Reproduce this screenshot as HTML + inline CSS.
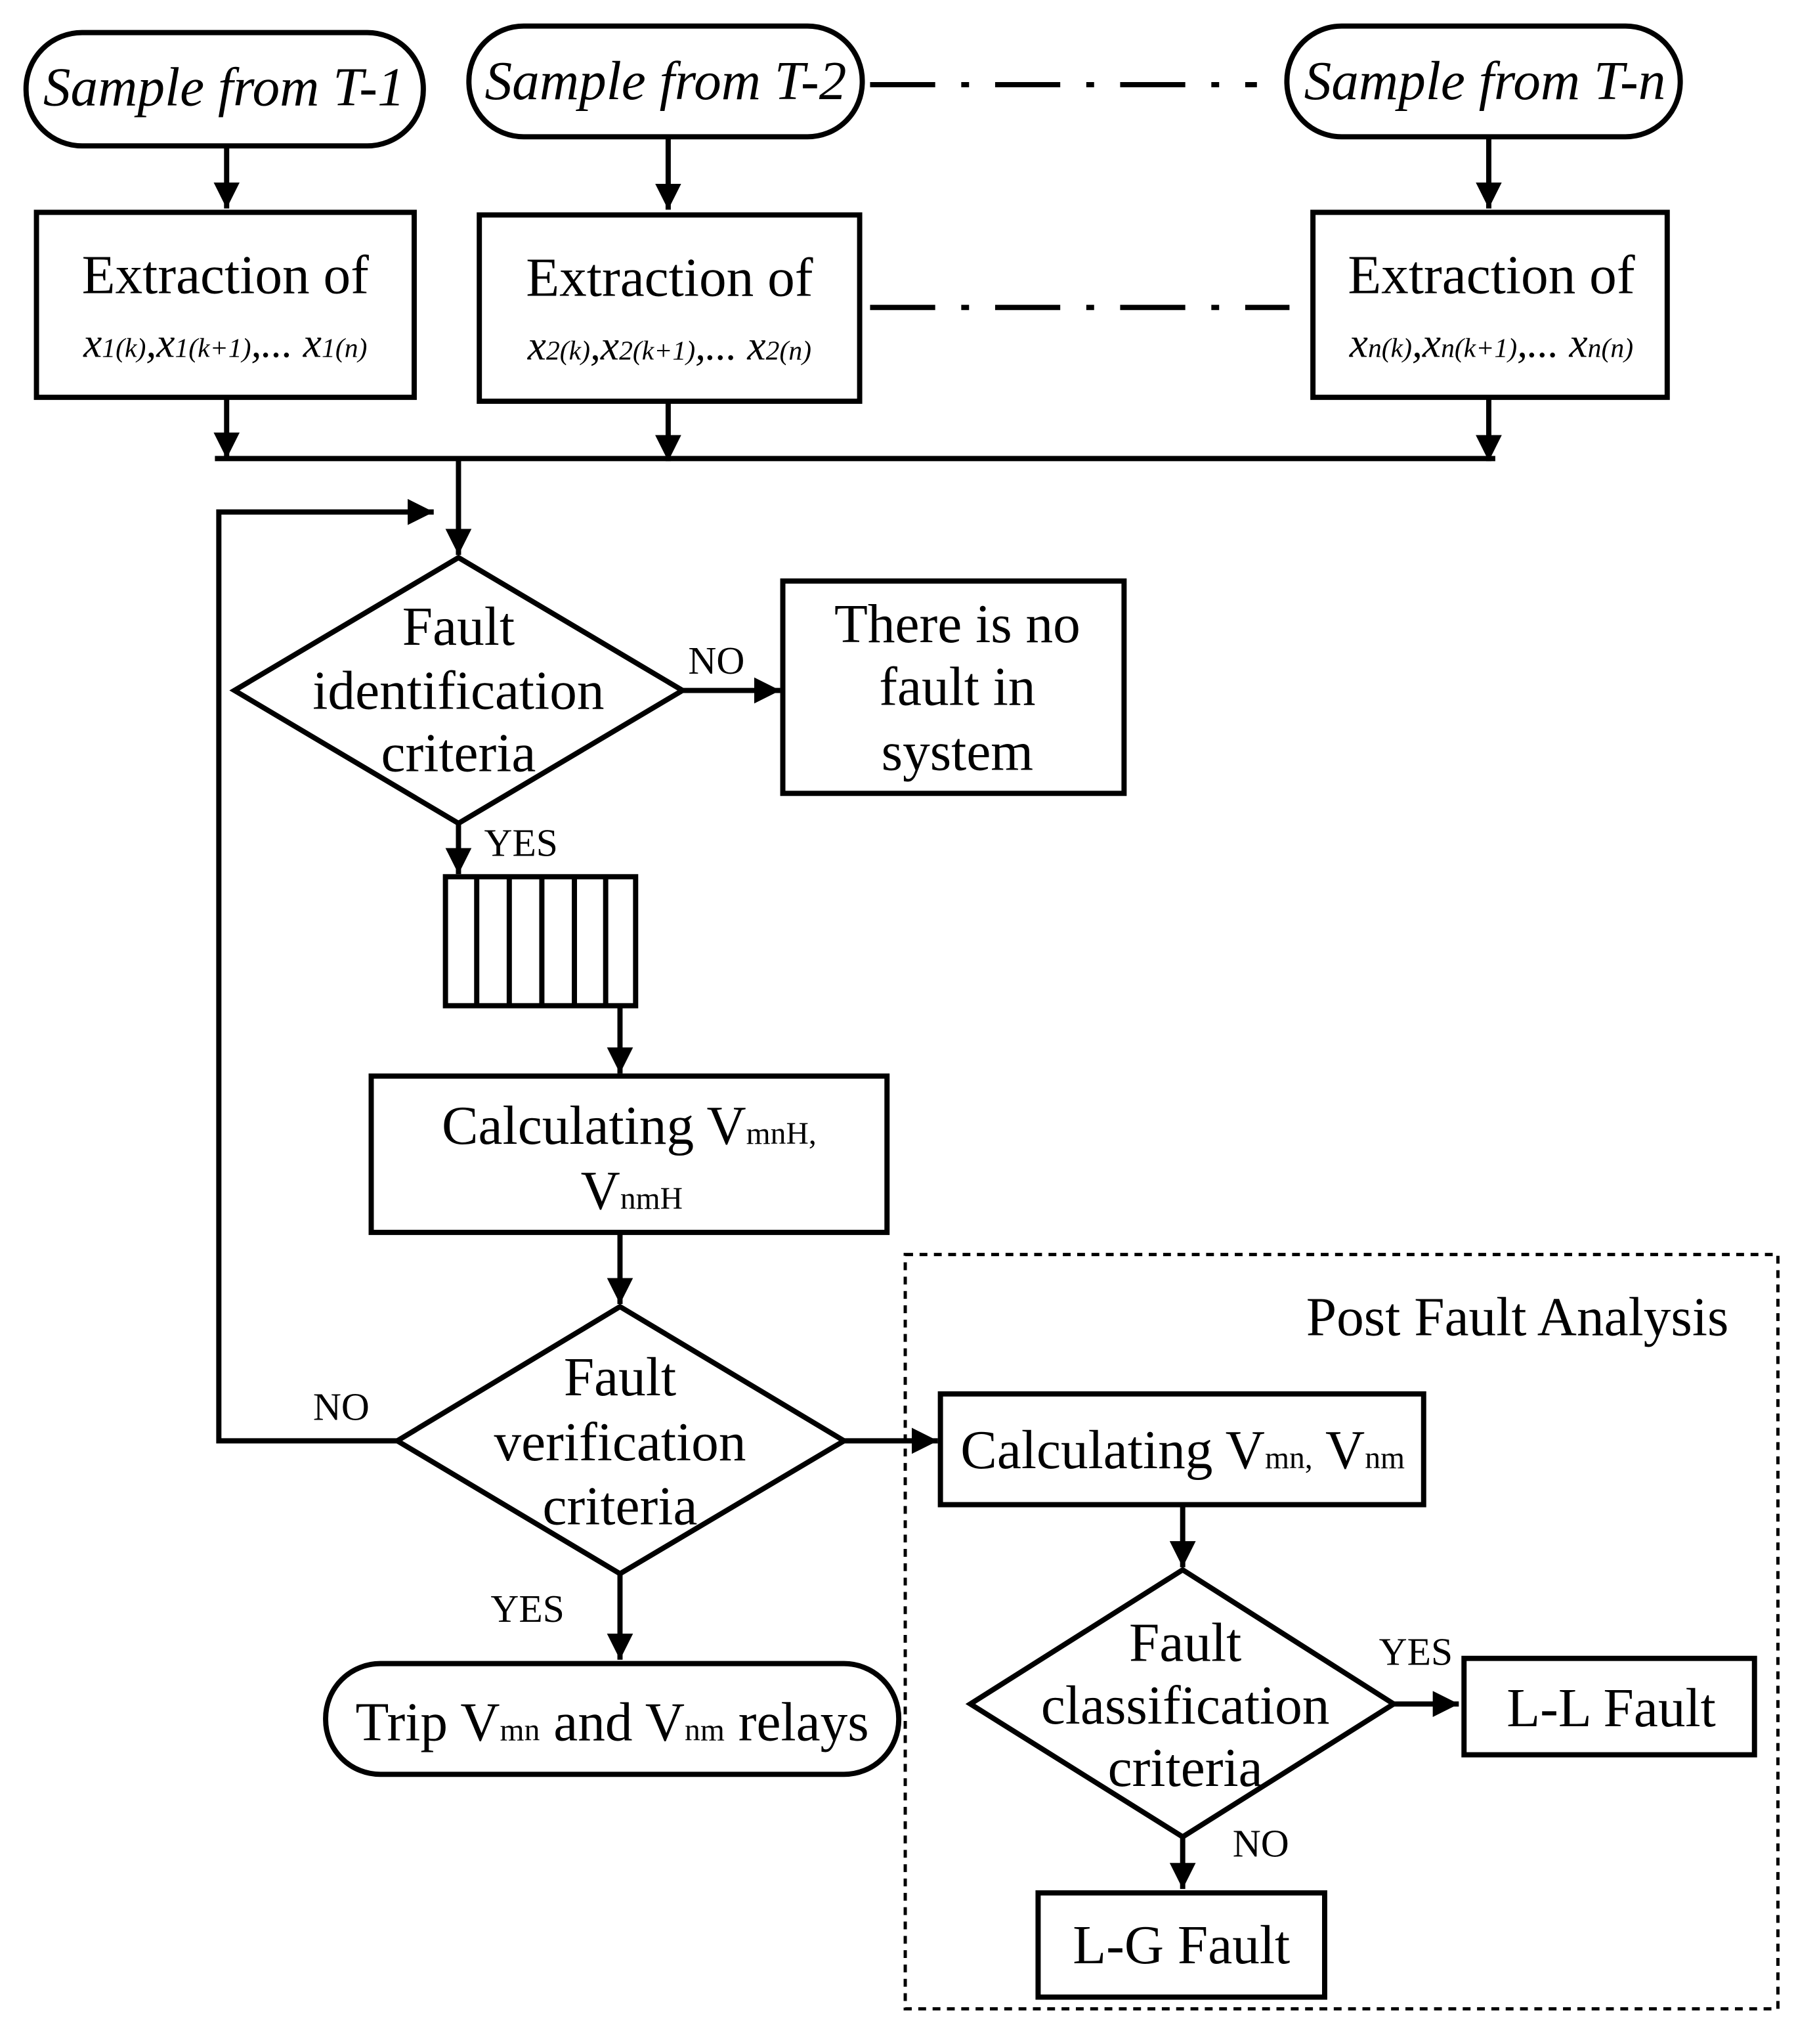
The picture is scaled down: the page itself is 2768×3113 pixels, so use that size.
<!DOCTYPE html>
<html><head><meta charset="utf-8"><style>
html,body{margin:0;padding:0;background:#fff;}
svg{display:block;}
text{font-family:"Liberation Serif",serif;fill:#000;}
</style></head><body>
<svg width="2768" height="3113" viewBox="0 0 1395 1569" preserveAspectRatio="none" xmlns="http://www.w3.org/2000/svg">
<defs>
<marker id="a" viewBox="0 0 10 10" refX="10" refY="5" markerWidth="5" markerHeight="5" orient="auto" markerUnits="strokeWidth">
<path d="M0,0 L10,5 L0,10 z" fill="#000"/></marker>
</defs>
<g fill="none" stroke="#000" stroke-width="4">
<rect x="20" y="25" width="305" height="87" rx="43"/>
<rect x="360" y="20" width="302" height="85" rx="42"/>
<rect x="988" y="20" width="302" height="85" rx="42"/>
<path d="M668,65 H965" stroke-dasharray="50,20,6,20"/>
<path d="M668,236 H990" stroke-dasharray="50,20,6,20"/>
<path d="M174,112 V160" marker-end="url(#a)"/>
<path d="M513,105 V161" marker-end="url(#a)"/>
<path d="M1143,105 V160" marker-end="url(#a)"/>
<rect x="28" y="163" width="290" height="142"/>
<rect x="368" y="165" width="292" height="143"/>
<rect x="1008" y="163" width="272" height="142"/>
<path d="M174,305 V352" marker-end="url(#a)"/>
<path d="M513,308 V354" marker-end="url(#a)"/>
<path d="M1143,305 V354" marker-end="url(#a)"/>
<path d="M165,352 H1148"/>
<path d="M352,352 V426" marker-end="url(#a)"/>
<path d="M305,1106 H168 V393 H333" marker-end="url(#a)"/>
<polygon points="352,428 524,530 352,632 180,530"/>
<path d="M524,530 H599" marker-end="url(#a)"/>
<rect x="601" y="446" width="262" height="163"/>
<path d="M352,632 V671" marker-end="url(#a)"/>
<rect x="342" y="673" width="146" height="99"/>
<path d="M366,673V772M391,673V772M416,673V772M441,673V772M465,673V772"/>
<path d="M476,772 V824" marker-end="url(#a)"/>
<rect x="285" y="826" width="396" height="120"/>
<path d="M476,946 V1001" marker-end="url(#a)"/>
<polygon points="476,1003 648,1106 476,1208 305,1106"/>
<path d="M476,1208 V1274" marker-end="url(#a)"/>
<rect x="250" y="1277" width="440" height="85" rx="42"/>
<rect x="695" y="963" width="670" height="579" stroke-width="2.5" stroke-dasharray="6,5"/>
<path d="M648,1106 H720" marker-end="url(#a)"/>
<rect x="722" y="1070" width="371" height="85"/>
<path d="M908,1155 V1203" marker-end="url(#a)"/>
<polygon points="908,1205 1070,1308 908,1410 745,1308"/>
<path d="M1070,1308 H1120" marker-end="url(#a)"/>
<rect x="1124" y="1273" width="223" height="74"/>
<path d="M908,1410 V1450" marker-end="url(#a)"/>
<rect x="797" y="1453" width="220" height="80"/>
</g>
<g font-size="42" text-anchor="middle">
<text x="172" y="81" font-style="italic">Sample from T-1</text>
<text x="511" y="76" font-style="italic">Sample from T-2</text>
<text x="1140" y="76" font-style="italic">Sample from T-n</text>
<text x="173" y="225">Extraction of</text>
<text x="514" y="227">Extraction of</text>
<text x="1145" y="225">Extraction of</text>
<text x="173" y="274" font-size="32" font-style="italic">x<tspan font-size="21">1(k)</tspan>,x<tspan font-size="21">1(k+1)</tspan>,... x<tspan font-size="21">1(n)</tspan></text>
<text x="514" y="276" font-size="32" font-style="italic">x<tspan font-size="21">2(k)</tspan>,x<tspan font-size="21">2(k+1)</tspan>,... x<tspan font-size="21">2(n)</tspan></text>
<text x="1145" y="274" font-size="32" font-style="italic">x<tspan font-size="21">n(k)</tspan>,x<tspan font-size="21">n(k+1)</tspan>,... x<tspan font-size="21">n(n)</tspan></text>
<text x="352" y="495">Fault</text>
<text x="352" y="544">identification</text>
<text x="352" y="592">criteria</text>
<text x="735" y="493">There is no</text>
<text x="735" y="541">fault in</text>
<text x="735" y="591">system</text>
<text x="483" y="878">Calculating V<tspan font-size="24">mnH,</tspan></text>
<text x="485" y="928">V<tspan font-size="24">nmH</tspan></text>
<text x="476" y="1071">Fault</text>
<text x="476" y="1121">verification</text>
<text x="476" y="1170">criteria</text>
<text x="470" y="1336">Trip V<tspan font-size="24">mn</tspan> and V<tspan font-size="24">nm</tspan>  relays</text>
<text x="1165" y="1025">Post Fault Analysis</text>
<text x="908" y="1127">Calculating V<tspan font-size="24">mn,</tspan> V<tspan font-size="24">nm</tspan></text>
<text x="910" y="1275">Fault</text>
<text x="910" y="1323">classification</text>
<text x="910" y="1371">criteria</text>
<text x="1237" y="1325">L-L Fault</text>
<text x="907" y="1507">L-G Fault</text>
</g>
<g font-size="30" text-anchor="middle">
<text x="550" y="517">NO</text>
<text x="400" y="657">YES</text>
<text x="262" y="1090">NO</text>
<text x="405" y="1245">YES</text>
<text x="1087" y="1278">YES</text>
<text x="968" y="1425">NO</text>
</g>
</svg>
</body></html>
